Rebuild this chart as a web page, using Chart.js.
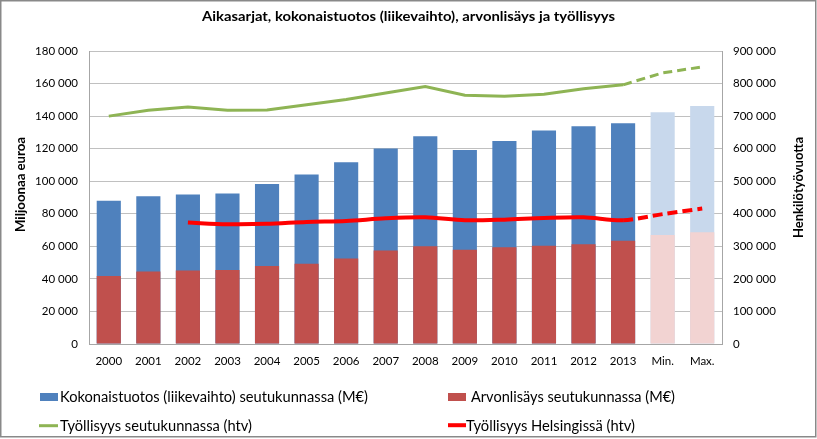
<!DOCTYPE html>
<html><head><meta charset="utf-8">
<script src="https://cdn.jsdelivr.net/npm/chart.js@4"></script>
<style>
html,body{margin:0;padding:0;background:#fff;}
canvas{display:block;}
</style></head><body>
<canvas id="c" width="817" height="439"></canvas>
<script>
const categories = ['2000','2001','2002','2003','2004','2005','2006','2007','2008','2009','2010','2011','2012','2013','Min.','Max.'];
const kokonaistuotos = [88000, 90800, 91800, 92400, 98300, 104100, 111700, 120100, 127600, 119200, 124700, 131100, 133700, 135600, 142300, 146200];
const arvonlisays = [41700, 44600, 45200, 45400, 47900, 49300, 52600, 57500, 60100, 57900, 59500, 60300, 61300, 63400, 66900, 68700];
const tyollisyysSeutu = [700000, 718000, 728000, 718000, 719000, 735000, 751000, 771000, 791000, 764000, 761000, 767000, 784000, 796000, 833000, 851000];
const tyollisyysHki = [null, null, 373000, 368000, 369000, 375000, 378000, 386000, 389000, 380000, 382000, 387000, 389000, 380000, 399000, 416000];
const projectedCategories = ['Min.','Max.'];
const titleText = 'Aikasarjat, kokonaistuotos (liikevaihto), arvonlisäys ja työllisyys';
const leftTitle = 'Miljoonaa euroa';
const rightTitle = 'Henkilötyövuotta';
const legendLabels = ['Kokonaistuotos (liikevaihto) seutukunnassa (M€)','Arvonlisäys seutukunnassa (M€)','Työllisyys seutukunnassa (htv)','Työllisyys Helsingissä (htv)'];

const BLUE='#4f81bd', BLUE_L='#c8d8ec', RED='#c0504d', RED_L='#f2d3d2', GREEN='#8eb454', LRED='#ff0000';
const isProj = c => projectedCategories.includes(c);
const fmt = v => String(v).replace(/\B(?=(\d{3})+(?!\d))/g, ' ');
const FONT = 'Lato';

function fitText(ctx, text, x, y, w, font, rot) {
  ctx.save();
  ctx.font = font;
  const m = ctx.measureText(text).width;
  let s = w / m; s = Math.max(0.75, Math.min(1.25, s));
  ctx.translate(x, y);
  if (rot) ctx.rotate(rot);
  ctx.scale(s, 1);
  ctx.fillText(text, 0, 0);
  ctx.restore();
}

const decor = {
  id: 'decor',
  afterDraw(chart) {
    const ctx = chart.ctx;
    ctx.save();
    ctx.fillStyle = '#000';
    ctx.textBaseline = 'alphabetic';
    ctx.textAlign = 'center';
    fitText(ctx, titleText, 408.5, 21, 413, 'bold 13px ' + FONT);
    ctx.textBaseline = 'middle';
    fitText(ctx, leftTitle, 21, 184.5, 95, 'bold 12.5px ' + FONT, -Math.PI/2);
    fitText(ctx, rightTitle, 799, 187.5, 101, 'bold 12.5px ' + FONT, -Math.PI/2);
    // legend
    ctx.fillStyle = BLUE; ctx.fillRect(40, 393, 18, 8);
    ctx.fillStyle = RED; ctx.fillRect(448, 393, 18, 8);
    ctx.lineWidth = 3; ctx.strokeStyle = GREEN;
    ctx.beginPath(); ctx.moveTo(39, 425.7); ctx.lineTo(58, 425.7); ctx.stroke();
    ctx.lineWidth = 4; ctx.strokeStyle = LRED;
    ctx.beginPath(); ctx.moveTo(448, 425.2); ctx.lineTo(466, 425.2); ctx.stroke();
    ctx.fillStyle = '#000';
    ctx.textAlign = 'left'; ctx.textBaseline = 'alphabetic';
    const lf = '14.5px ' + FONT;
    fitText(ctx, legendLabels[0], 60, 402.3, 308, lf);
    fitText(ctx, legendLabels[1], 471, 402.3, 204, lf);
    fitText(ctx, legendLabels[2], 60, 430.5, 192, lf);
    fitText(ctx, legendLabels[3], 466, 430.5, 169, lf);
    // frame
    ctx.strokeStyle = '#898989'; ctx.lineWidth = 1.5;
    ctx.strokeRect(0.75, 0.75, 815, 436);
    ctx.restore();
  }
};

const tickFont = { family: FONT, size: 11.5 };
new Chart(document.getElementById('c'), {
  data: {
    labels: categories,
    datasets: [
      { type: 'line', label: legendLabels[2], data: tyollisyysSeutu, yAxisID: 'y1', order: 0,
        borderColor: GREEN, borderWidth: 3, pointRadius: 0, tension: 0, borderCapStyle: 'butt',
        segment: { borderDash: c => c.p0DataIndex >= 13 ? [9, 5] : undefined } },
      { type: 'line', label: legendLabels[3], data: tyollisyysHki, yAxisID: 'y1', order: 0,
        borderColor: LRED, borderWidth: 4, pointRadius: 0, tension: 0.3, borderCapStyle: 'butt',
        segment: { borderDash: c => c.p0DataIndex >= 13 ? [10, 5] : undefined } },
      { type: 'bar', label: legendLabels[1], data: arvonlisays, yAxisID: 'y', order: 1, grouped: false,
        backgroundColor: categories.map(c => isProj(c) ? RED_L : RED),
        barPercentage: 0.61, categoryPercentage: 1 },
      { type: 'bar', label: legendLabels[0], data: kokonaistuotos, yAxisID: 'y', order: 2, grouped: false,
        backgroundColor: categories.map(c => isProj(c) ? BLUE_L : BLUE),
        barPercentage: 0.61, categoryPercentage: 1 }
    ]
  },
  options: {
    responsive: false, animation: false,
    layout: { padding: { top: 51, left: 0, right: 0, bottom: 0 } },
    plugins: { legend: { display: false }, title: { display: false }, tooltip: { enabled: false } },
    scales: {
      x: { grid: { display: false, drawTicks: false }, border: { display: true, color: '#a6a6a6', width: 1 },
        ticks: { font: tickFont, color: '#000', padding: 10, maxRotation: 0, autoSkip: false },
        afterFit: s => { s.height = 95; } },
      y: { position: 'left', min: 0, max: 180000,
        ticks: { stepSize: 20000, callback: v => fmt(v), padding: 11, font: tickFont, color: '#000' },
        grid: { color: '#c0c0c0', drawTicks: false }, border: { display: true, color: '#a6a6a6' },
        afterFit: s => { s.width = 89; } },
      y1: { position: 'right', min: 0, max: 900000,
        ticks: { stepSize: 100000, callback: v => fmt(v), padding: 11, font: tickFont, color: '#000' },
        grid: { display: false, drawTicks: false }, border: { display: true, color: '#a6a6a6' },
        afterFit: s => { s.width = 95; } }
    }
  },
  plugins: [decor]
});
</script>
</body></html>
